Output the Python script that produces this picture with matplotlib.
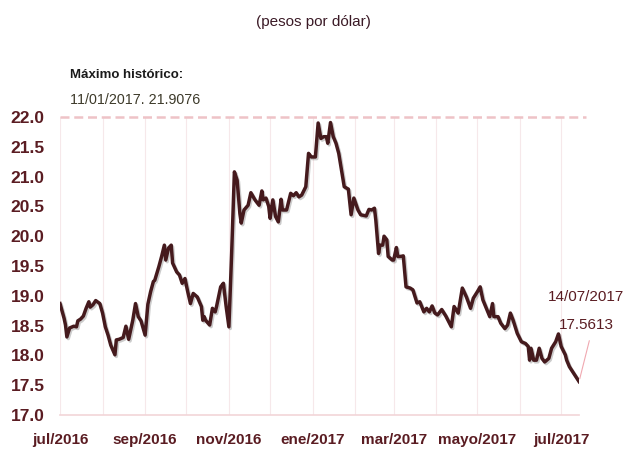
import numpy as np
import pandas as pd
import matplotlib
matplotlib.use("Agg")
import matplotlib.pyplot as plt
import matplotlib.patheffects as pe

plt.rcParams['font.family'] = ['Liberation Sans', 'DejaVu Sans']

# tipo de cambio FIX (pesos por dolar)
fechas = [
    "2016-07-01", "2016-07-04", "2016-07-05", "2016-07-06", "2016-07-08", "2016-07-11",
    "2016-07-13", "2016-07-14", "2016-07-16", "2016-07-18", "2016-07-20", "2016-07-22",
    "2016-07-23", "2016-07-25", "2016-07-27", "2016-07-30", "2016-08-01", "2016-08-03",
    "2016-08-05", "2016-08-07", "2016-08-10", "2016-08-11", "2016-08-13", "2016-08-16",
    "2016-08-18", "2016-08-20", "2016-08-23", "2016-08-25", "2016-08-27", "2016-08-29",
    "2016-09-01", "2016-09-03", "2016-09-05", "2016-09-07", "2016-09-08", "2016-09-11",
    "2016-09-13", "2016-09-15", "2016-09-16", "2016-09-18", "2016-09-20", "2016-09-21",
    "2016-09-24", "2016-09-26", "2016-09-28", "2016-09-30", "2016-10-02", "2016-10-04",
    "2016-10-06", "2016-10-09", "2016-10-12", "2016-10-13", "2016-10-14", "2016-10-15",
    "2016-10-18", "2016-10-20", "2016-10-22", "2016-10-23", "2016-10-26", "2016-10-28",
    "2016-10-30", "2016-11-01", "2016-11-03", "2016-11-05", "2016-11-07", "2016-11-09",
    "2016-11-10", "2016-11-12", "2016-11-15", "2016-11-17", "2016-11-20", "2016-11-22",
    "2016-11-23", "2016-11-25", "2016-11-26", "2016-11-28", "2016-11-30", "2016-12-01",
    "2016-12-03", "2016-12-05", "2016-12-07", "2016-12-09", "2016-12-10", "2016-12-13",
    "2016-12-16", "2016-12-18", "2016-12-20", "2016-12-22", "2016-12-24", "2016-12-27",
    "2016-12-29", "2016-12-31", "2017-01-03", "2017-01-05", "2017-01-07", "2017-01-09",
    "2017-01-11", "2017-01-12", "2017-01-14", "2017-01-16", "2017-01-18", "2017-01-20",
    "2017-01-22", "2017-01-24", "2017-01-27", "2017-01-29", "2017-01-31", "2017-02-03",
    "2017-02-05", "2017-02-09", "2017-02-11", "2017-02-13", "2017-02-15", "2017-02-16",
    "2017-02-18", "2017-02-19", "2017-02-21", "2017-02-22", "2017-02-24", "2017-02-25",
    "2017-02-28", "2017-03-01", "2017-03-03", "2017-03-04", "2017-03-06", "2017-03-08",
    "2017-03-10", "2017-03-13", "2017-03-15", "2017-03-18", "2017-03-20", "2017-03-23",
    "2017-03-25", "2017-03-27", "2017-03-29", "2017-03-31", "2017-04-02", "2017-04-05",
    "2017-04-08", "2017-04-12", "2017-04-14", "2017-04-17", "2017-04-20", "2017-04-23",
    "2017-04-26", "2017-04-28", "2017-05-01", "2017-05-03", "2017-05-05", "2017-05-08",
    "2017-05-10", "2017-05-12", "2017-05-13", "2017-05-16", "2017-05-18", "2017-05-21",
    "2017-05-23", "2017-05-25", "2017-05-27", "2017-05-30", "2017-06-02", "2017-06-05",
    "2017-06-07", "2017-06-08", "2017-06-09", "2017-06-11", "2017-06-13", "2017-06-15",
    "2017-06-17", "2017-06-19", "2017-06-22", "2017-06-24", "2017-06-27", "2017-06-29",
    "2017-07-01", "2017-07-04", "2017-07-05", "2017-07-07", "2017-07-14",
]
tipo_cambio = [
    18.87, 18.62, 18.51, 18.31, 18.46, 18.49,
    18.48, 18.58, 18.61, 18.66, 18.79, 18.90,
    18.81, 18.85, 18.92, 18.87, 18.71, 18.48,
    18.34, 18.17, 18.01, 18.26, 18.27, 18.30,
    18.49, 18.27, 18.59, 18.87, 18.65, 18.58,
    18.34, 18.86, 19.07, 19.24, 19.26, 19.49,
    19.66, 19.85, 19.60, 19.80, 19.85, 19.55,
    19.40, 19.35, 19.21, 19.29, 19.07, 18.87,
    19.04, 18.98, 18.82, 18.59, 18.65, 18.59,
    18.51, 18.79, 18.73, 18.82, 19.15, 19.21,
    18.82, 18.48, 19.71, 21.08, 20.94, 20.38,
    20.22, 20.44, 20.52, 20.73, 20.61, 20.55,
    20.52, 20.76, 20.61, 20.64, 20.50, 20.30,
    20.61, 20.33, 20.24, 20.62, 20.44, 20.44,
    20.72, 20.68, 20.73, 20.66, 20.69, 20.83,
    21.39, 21.33, 21.33, 21.90, 21.64, 21.67,
    21.67, 21.56, 21.9076, 21.67, 21.56, 21.39,
    21.11, 20.83, 20.79, 20.36, 20.64, 20.44,
    20.36, 20.34, 20.45, 20.44, 20.47, 20.27,
    19.71, 19.85, 19.85, 20.00, 19.94, 19.66,
    19.60, 19.60, 19.81, 19.66, 19.66, 19.67,
    19.15, 19.13, 19.10, 18.88, 18.90, 18.73,
    18.79, 18.73, 18.83, 18.71, 18.68, 18.77,
    18.66, 18.48, 18.82, 18.71, 19.13, 18.98,
    18.79, 18.96, 19.07, 19.15, 18.93, 18.76,
    18.65, 18.87, 18.65, 18.65, 18.54, 18.45,
    18.51, 18.71, 18.59, 18.37, 18.23, 18.20,
    18.15, 17.92, 18.12, 17.92, 17.92, 18.12,
    17.95, 17.89, 17.95, 18.12, 18.23, 18.36,
    18.15, 18.01, 17.92, 17.81, 17.5613,
]

meses_grid = pd.date_range("2016-07-01", "2017-07-01", freq="MS")
etiquetas_x = ["jul/2016", "sep/2016", "nov/2016", "ene/2017",
               "mar/2017", "mayo/2017", "jul/2017"]
ticks_y = np.arange(17.0, 22.01, 0.5)

fechas = pd.to_datetime(fechas)

color_linea = "#451a1d"
color_texto = "#5a1c22"
rosa = "#f2d5d8"

fig = plt.figure(figsize=(6.27, 4.55), dpi=100)
ax = fig.add_axes([0.0957, 0.0879, 0.8278, 0.6549])

for m in meses_grid:
    ax.axvline(m, color="#f6e8ea", lw=0.8, zorder=0)

ax.axhline(22.0, xmin=0, xmax=1.013, color="#eec3c7", lw=1.8,
           dashes=(3.6, 1.9), clip_on=False, zorder=1)

ax.plot(fechas, tipo_cambio, color=color_linea, lw=2.5, zorder=3,
        path_effects=[pe.SimpleLineShadow(offset=(1.0, -1.2), alpha=0.2),
                      pe.Normal()])

ax.set_xlim(pd.Timestamp("2016-07-01"), pd.Timestamp("2017-07-14"))
ax.set_ylim(17.0, 22.0)

ax.set_yticks(ticks_y)
ax.set_yticklabels(["%.1f" % t for t in ticks_y])
ax.set_xticks(meses_grid[::2])
ax.set_xticklabels(etiquetas_x)

ax.tick_params(axis="y", length=0, pad=11, labelsize=12.5, labelcolor=color_texto)
ax.tick_params(axis="x", length=0, pad=13, labelsize=11, labelcolor=color_texto)
for lab in ax.get_xticklabels() + ax.get_yticklabels():
    lab.set_fontweight("bold")

for s in ["top", "right", "left"]:
    ax.spines[s].set_visible(False)
ax.spines["bottom"].set_color(rosa)
ax.spines["bottom"].set_linewidth(1.2)

fig.text(0.5, 0.952, "(pesos por dólar)", ha="center", va="center",
         fontsize=11, color="#3b1a26")
fig.text(0.112, 0.835, "Máximo histórico:", ha="left", va="center",
         fontsize=9.5, fontweight="bold", color="#1a1a1a")
fig.text(0.112, 0.78, "11/01/2017. 21.9076", ha="left", va="center",
         fontsize=10.3, color="#3d3a2a")

ax.annotate("", xy=(fechas[-1], tipo_cambio[-1]), xytext=(590, 117),
            textcoords="figure pixels",
            arrowprops=dict(arrowstyle="-", color="#f0a8b0", lw=0.8),
            annotation_clip=False)
fig.text(0.935, 0.347, "14/07/2017", ha="center", va="center",
         fontsize=11, color=color_texto)
fig.text(0.935, 0.285, "17.5613", ha="center", va="center",
         fontsize=11, color=color_texto)

fig.savefig("out.png", dpi=100)
